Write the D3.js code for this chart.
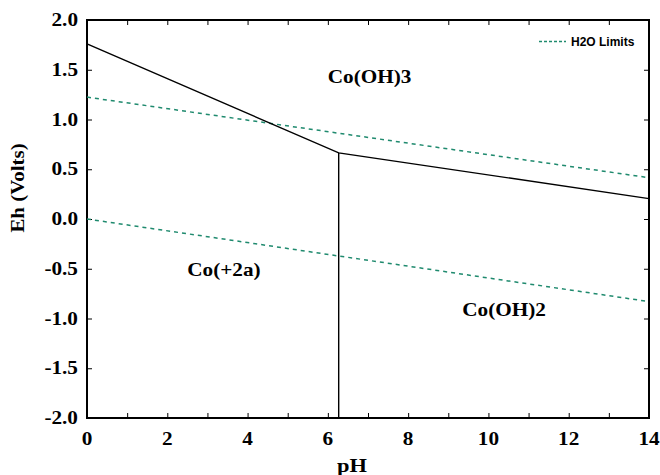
<!DOCTYPE html>
<html>
<head>
<meta charset="utf-8">
<script src="https://cdn.jsdelivr.net/npm/d3@7"></script>
<style>
  body { margin: 0; background: #fff; }
  svg text { font-family: "Liberation Serif", "Times New Roman", serif; font-weight: bold; }
</style>
</head>
<body>
<svg id="chart" width="660" height="475"></svg>
<script>
// Data

var phTicks = [0, 2, 4, 6, 8, 10, 12, 14];
var ehTicks = [-2.0, -1.5, -1.0, -0.5, 0.0, 0.5, 1.0, 1.5, 2.0];

// boundary lines (pH, Eh)
var upperBoundary = [[0, 1.76], [6.27, 0.665], [14, 0.205]];
var verticalBoundary = [[6.27, 0.665], [6.27, -2.0]];
var waterUpper = [[0, 1.225], [14, 0.415]];
var waterLower = [[0, 0.0], [14, -0.83]];

var fieldLabels = [
  {label: "Co(OH)3", ph: 7.04, eh: 1.37},
  {label: "Co(+2a)", ph: 3.41, eh: -0.57},
  {label: "Co(OH)2", ph: 10.39, eh: -0.97}
];

// Chart

var svg = d3.select("#chart");
var mLeft = 87, mRight = 649, mTop = 20, mBottom = 418;
var stretch = 1.18; // the original text is a little wide

var x = d3.scaleLinear().domain([0, 14]).range([mLeft, mRight]);
var y = d3.scaleLinear().domain([-2, 2]).range([mBottom, mTop]);

var line = d3.line().x(function(d) { return x(d[0]); }).y(function(d) { return y(d[1]); });

// minor ticks every 1 pH on top and bottom
var minor = d3.range(1, 14);
svg.append("g").attr("transform", "translate(0," + mBottom + ")")
  .call(d3.axisTop(x).tickValues(minor).tickSize(5).tickFormat(""))
  .call(function(g) { g.select(".domain").remove(); });
svg.append("g").attr("transform", "translate(0," + mTop + ")")
  .call(d3.axisBottom(x).tickValues(minor).tickSize(5).tickFormat(""))
  .call(function(g) { g.select(".domain").remove(); });

// y ticks on left and right
svg.append("g").attr("transform", "translate(" + mLeft + ",0)")
  .call(d3.axisRight(y).tickValues(ehTicks.slice(1, -1)).tickSize(5).tickFormat(""))
  .call(function(g) { g.select(".domain").remove(); });
svg.append("g").attr("transform", "translate(" + mRight + ",0)")
  .call(d3.axisLeft(y).tickValues(ehTicks.slice(1, -1)).tickSize(5).tickFormat(""))
  .call(function(g) { g.select(".domain").remove(); });

// tick labels
svg.append("g").selectAll("text").data(phTicks).join("text")
  .attr("transform", function(d) { return "translate(" + x(d) + ",445) scale(" + stretch + ",1)"; })
  .attr("text-anchor", "middle")
  .style("font-size", "18px")
  .text(function(d) { return d; });

svg.append("g").selectAll("text").data(ehTicks).join("text")
  .attr("transform", function(d) { return "translate(78," + (y(d) + 6) + ") scale(" + stretch + ",1)"; })
  .attr("text-anchor", "end")
  .style("font-size", "18px")
  .text(function(d) { return d3.format(".1f")(d).replace("−", "-"); });

// frame
svg.append("rect")
  .attr("x", mLeft).attr("y", mTop)
  .attr("width", mRight - mLeft).attr("height", mBottom - mTop)
  .attr("fill", "none").attr("stroke", "#000").attr("stroke-width", 2);

// water limits
[waterUpper, waterLower].forEach(function(d) {
  svg.append("path").datum(d)
    .attr("d", line)
    .attr("fill", "none")
    .attr("stroke", "#1f8a6e")
    .attr("stroke-width", 1.5)
    .attr("stroke-dasharray", "4,4");
});

// stability boundaries
[upperBoundary, verticalBoundary].forEach(function(d) {
  svg.append("path").datum(d)
    .attr("d", line)
    .attr("fill", "none")
    .attr("stroke", "#000")
    .attr("stroke-width", 1.4);
});

// field labels
svg.append("g").selectAll("text").data(fieldLabels).join("text")
  .attr("transform", function(d) { return "translate(" + x(d.ph) + "," + y(d.eh) + ") scale(" + stretch + ",1)"; })
  .attr("text-anchor", "middle")
  .style("font-size", "18px")
  .text(function(d) { return d.label; });

// legend
svg.append("line")
  .attr("x1", 539).attr("x2", 566).attr("y1", 41.5).attr("y2", 41.5)
  .attr("stroke", "#1f8a6e").attr("stroke-width", 1.3).attr("stroke-dasharray", "3,2");
svg.append("text")
  .attr("x", 571).attr("y", 46)
  .style("font-family", "'Liberation Sans', Arial, sans-serif")
  .style("font-size", "12px")
  .text("H2O Limits");

// axis titles
svg.append("text")
  .attr("transform", "translate(352,472) scale(" + stretch + ",1)")
  .attr("text-anchor", "middle")
  .style("font-size", "19px")
  .text("pH");

svg.append("text")
  .attr("transform", "translate(24,188) rotate(-90) scale(1.1,1)")
  .attr("text-anchor", "middle")
  .style("font-size", "19px")
  .text("Eh (Volts)");
</script>
</body>
</html>
